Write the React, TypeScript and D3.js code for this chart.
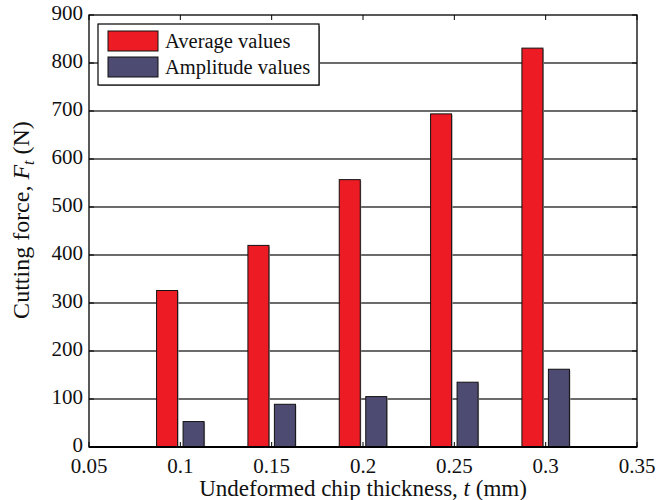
import React from "react";
import * as d3 from "d3";

const thickness = [0.1, 0.15, 0.2, 0.25, 0.3];
const averageValues = [326, 420, 557, 694, 831];
const amplitudeValues = [53, 89, 105, 135, 162];
const xTicks = [0.05, 0.1, 0.15, 0.2, 0.25, 0.3, 0.35];
const xTickLabels = ["0.05", "0.1", "0.15", "0.2", "0.25", "0.3", "0.35"];
const yTicks = [0, 100, 200, 300, 400, 500, 600, 700, 800, 900];
const seriesNames = ["Average values", "Amplitude values"];
const seriesColors = ["#ED1C24", "#4D4B71"];

const W = 658;
const H = 500;
const left = 89;
const right = 637;
const top = 15;
const bottom = 447;
const font = "'Liberation Serif', 'Times New Roman', serif";

export default function App() {
  const x = d3.scaleLinear().domain([0.05, 0.35]).range([left, right]);
  const y = d3.scaleLinear().domain([0, 900]).range([bottom, top]);
  const barW = 0.0115; // in data units
  const gap = 0.0015;

  const bars: { x0: number; x1: number; v: number; c: string }[] = [];
  thickness.forEach((t, i) => {
    bars.push({ x0: x(t - gap - barW), x1: x(t - gap), v: averageValues[i], c: seriesColors[0] });
    bars.push({ x0: x(t + gap), x1: x(t + gap + barW), v: amplitudeValues[i], c: seriesColors[1] });
  });

  return (
    <svg width={W} height={H} style={{ position: "absolute", left: 0, top: 0, background: "#fff" }}>
      {/* grid */}
      {yTicks.slice(1, -1).map((v) => (
        <line key={"g" + v} x1={left} x2={right} y1={y(v)} y2={y(v)} stroke="#3a3a3a" strokeWidth={1.3} />
      ))}
      {/* bars */}
      {bars.map((b, i) => (
        <g key={"b" + i}>
          <rect x={b.x0 + 1} y={y(b.v) + 1} width={b.x1 - b.x0} height={bottom - y(b.v) - 1} fill="#aaa" />
          <rect x={b.x0} y={y(b.v)} width={b.x1 - b.x0} height={bottom - y(b.v)} fill={b.c} stroke="#111" strokeWidth={1} />
        </g>
      ))}
      {/* ticks */}
      {xTicks.map((t) => (
        <g key={"xt" + t}>
          <line x1={x(t)} x2={x(t)} y1={top} y2={top + 5} stroke="#000" strokeWidth={1} />
          <line x1={x(t)} x2={x(t)} y1={bottom} y2={bottom - 5} stroke="#000" strokeWidth={1} />
        </g>
      ))}
      {yTicks.map((v) => (
        <g key={"yt" + v}>
          <line x1={left} x2={left + 5} y1={y(v)} y2={y(v)} stroke="#000" strokeWidth={1} />
          <line x1={right} x2={right - 5} y1={y(v)} y2={y(v)} stroke="#000" strokeWidth={1} />
        </g>
      ))}
      {/* frame */}
      <rect x={left} y={top} width={right - left} height={bottom - top} fill="none" stroke="#000" strokeWidth={1.3} />
      <line x1={left} x2={right} y1={bottom} y2={bottom} stroke="#000" strokeWidth={2.2} />
      {/* tick labels */}
      {xTicks.map((t, i) => (
        <text key={"xl" + t} x={x(t)} y={473} textAnchor="middle" fontFamily={font} fontSize={21} fill="#111">
          {xTickLabels[i]}
        </text>
      ))}
      {yTicks.map((v) => (
        <text key={"yl" + v} x={83} y={y(v) + 5} textAnchor="end" fontFamily={font} fontSize={21} fill="#111">
          {v}
        </text>
      ))}
      {/* axis titles */}
      <text x={(left + right) / 2} y={496} textAnchor="middle" fontFamily={font} fontSize={23} fill="#111">
        Undeformed chip thickness, <tspan fontStyle="italic">t</tspan> (mm)
      </text>
      <text
        transform="translate(29, 220) rotate(-90)"
        textAnchor="middle"
        fontFamily={font}
        fontSize={24}
        fill="#111"
      >
        Cutting force, <tspan fontStyle="italic">F</tspan>
        <tspan fontStyle="italic" fontSize={16} dy={5}>t</tspan>
        <tspan dy={-5}> (N)</tspan>
      </text>
      {/* legend */}
      <rect x={99} y={26} width={221} height={60} fill="#999" />
      <rect x={98} y={24} width={221} height={61} fill="#fff" stroke="#000" strokeWidth={1.2} />
      {seriesNames.map((n, i) => (
        <g key={"lg" + i}>
          <rect x={108} y={31 + i * 26} width={50} height={20} fill={seriesColors[i]} stroke="#111" strokeWidth={1} />
          <text x={165} y={48 + i * 26} fontFamily={font} fontSize={20.5} fill="#111">
            {n}
          </text>
        </g>
      ))}
    </svg>
  );
}
